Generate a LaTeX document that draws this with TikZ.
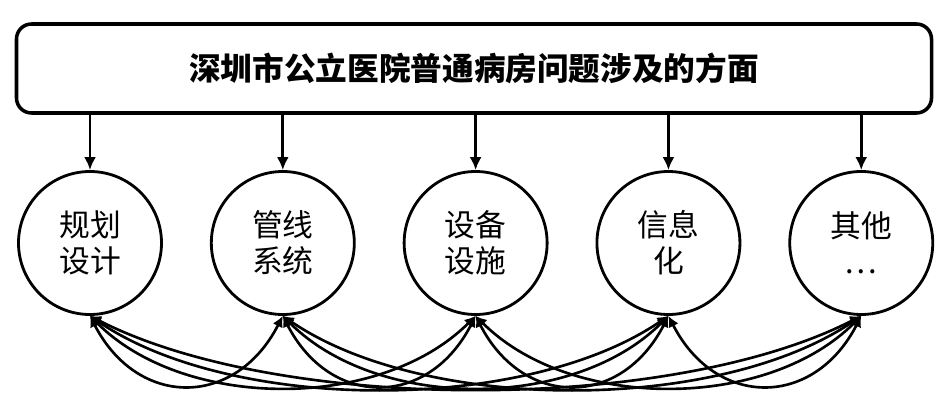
\documentclass[tikz,border=0pt]{standalone}
\usepackage{fontspec}
\newfontfamily\cjk{Noto Sans CJK SC}
\usepackage{tikz}
\usetikzlibrary{arrows.meta,positioning}

\begin{document}
\begin{tikzpicture}[
    topbox/.style={
      rectangle, rounded corners=0.3cm, draw=black, line width=2pt,
      minimum width=18.3cm, minimum height=1.78cm, align=center,
      font=\cjk\bfseries\fontsize{18}{21}\selectfont
    },
    aspect/.style={
      circle, draw=black, line width=1.6pt, minimum size=2.86cm,
      inner sep=0pt, align=center,
      font=\cjk\fontsize{17.5}{20.5}\selectfont
    },
    arrow/.style={-{Latex[length=2.6mm,width=2.4mm]}, line width=1.6pt},
    link/.style={{Latex[length=2.2mm,width=2.2mm]}-{Latex[length=2.2mm,width=2.2mm]}, line width=1.5pt},
    node distance=0.94cm
  ]
  \useasboundingbox (0,0) rectangle (18.94,-8.26);

  \node[topbox] (top) at (9.48,-1.37) {深圳市公立医院普通病房问题涉及的方面};

  \node[aspect] (plan)  at (1.8,-4.86)   {规划\\设计};
  \node[aspect, right=of plan]  (pipe)  {管线\\系统};
  \node[aspect, right=of pipe]  (equip) {设备\\设施};
  \node[aspect, right=of equip] (info)  {信息\\化};
  \node[aspect, right=of info]  (other) {其他\\…};

  \draw[arrow] (top.south -| plan)  -- (plan);
  \draw[arrow] (top.south -| pipe)  -- (pipe);
  \draw[arrow] (top.south -| equip) -- (equip);
  \draw[arrow] (top.south -| info)  -- (info);
  \draw[arrow] (top.south -| other) -- (other);

  % links between the aspects
  \draw[link] (plan.south)  .. controls +(0.95,-1.85) and +(-0.95,-1.85) .. (pipe.south);
  \draw[link] (plan.south)  .. controls +(1.9,-1.9)   and +(-1.9,-1.9)   .. (equip.south);
  \draw[link] (plan.south)  .. controls +(2.85,-1.95) and +(-2.85,-1.95) .. (info.south);
  \draw[link] (plan.south)  .. controls +(3.8,-1.95)  and +(-3.8,-1.95)  .. (other.south);
  \draw[link] (pipe.south)  .. controls +(0.95,-1.85) and +(-0.95,-1.85) .. (equip.south);
  \draw[link] (pipe.south)  .. controls +(1.9,-1.9)   and +(-1.9,-1.9)   .. (info.south);
  \draw[link] (pipe.south)  .. controls +(2.85,-1.95) and +(-2.85,-1.95) .. (other.south);
  \draw[link] (equip.south) .. controls +(0.95,-1.85) and +(-0.95,-1.85) .. (info.south);
  \draw[link] (equip.south) .. controls +(1.9,-1.9)   and +(-1.9,-1.9)   .. (other.south);
  \draw[link] (info.south)  .. controls +(0.95,-1.85) and +(-0.95,-1.85) .. (other.south);
\end{tikzpicture}
\end{document}
